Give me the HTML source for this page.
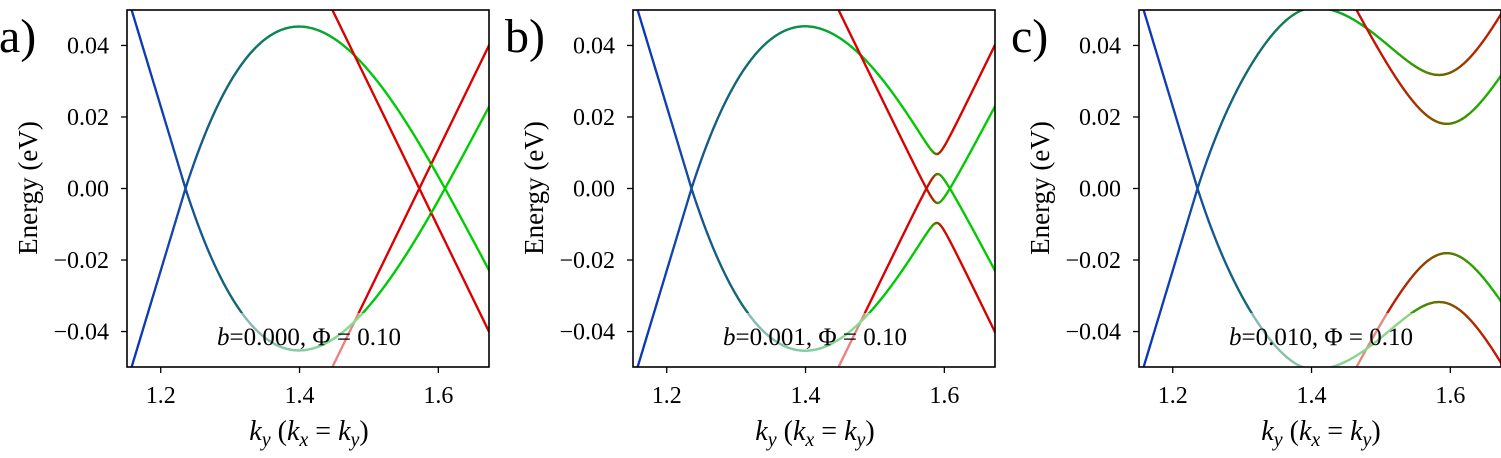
<!DOCTYPE html>
<html><head><meta charset="utf-8"><style>
body{margin:0;background:#fff;}
</style></head><body>
<svg id="s" width="1501" height="453" viewBox="0 0 1501 453" xmlns="http://www.w3.org/2000/svg"></svg>
<script>
const NS="http://www.w3.org/2000/svg";
const svg=document.getElementById('s');
const FF="'Liberation Serif','DejaVu Serif','Noto Serif CJK SC',serif";
function el(t,a,txt){const e=document.createElementNS(NS,t);for(const k in a)e.setAttribute(k,a[k]);if(t==='text')e.setAttribute('style','font-family:'+FF);if(txt!==undefined)e.textContent=txt;return e;}
const k1=1.2357,k2=1.6096,p=1.80,q=-3.835;
function f(k){return k<k1?0.643*(k-k1):(k-k1)*(k-k2)*(p*k+q);}
function r1(k){return 0.3986*(k-1.5726);}
const KMIN=1.1514,KMAX=1.673,W=362,TOP=10,BOT=367,Y0=188.5,SY=3576;
const stops=[[1.15,[10,50,190]],[1.22,[20,70,170]],[1.26,[20,90,140]],[1.32,[16,110,110]],[1.40,[10,150,70]],[1.48,[0,195,20]],[1.55,[0,205,0]]];
function gc(k){if(k<=stops[0][0])return stops[0][1];for(let i=1;i<stops.length;i++){if(k<=stops[i][0]){const t=(k-stops[i-1][0])/(stops[i][0]-stops[i-1][0]);return stops[i-1][1].map((v,j)=>v+(stops[i][1][j]-v)*t);}}return stops[stops.length-1][1];}
function col(k,w){const g=gc(k),r=[220,0,0];const c=g.map((v,j)=>Math.round(v*(1-w)+r[j]*w));return `rgb(${c[0]},${c[1]},${c[2]})`;}
function ss(a,b,x){const t=Math.min(1,Math.max(0,(x-a)/(b-a)));return t*t*(3-2*t);}
const panels=[{L:127,D0:1e-9,lab:"a)",b:"0.000"},{L:633,D0:0.0028,lab:"b)",b:"0.001"},{L:1139,D0:0.025,lab:"c)",b:"0.010"}];
panels.forEach((P,pi)=>{
  const L=P.L;
  const X=k=>L+(k-KMIN)/(KMAX-KMIN)*W, Y=E=>Y0-E*SY;
  const cp=el('clipPath',{id:'c'+pi});cp.appendChild(el('rect',{x:L,y:TOP,width:W,height:BOT-TOP}));svg.appendChild(cp);
  const g=el('g',{'clip-path':`url(#c${pi})`});svg.appendChild(g);
  function band(k,which){const a=f(k),b=r1(k),D=P.D0*ss(1.24,1.40,k)+1e-9;const m=(a+b)/2,d=(a-b)/2,R=Math.sqrt(d*d+D*D);
    if(which==0)return[m+R,0.5*(1-d/R)];if(which==1)return[m-R,0.5*(1+d/R)];if(which==2)return[-(m+R),0.5*(1-d/R)];return[-(m-R),0.5*(1+d/R)];}
  for(let w=0;w<4;w++){
    let prev=null;
    for(let k=KMIN-0.004;k<=KMAX+0.004;k+=0.0012){
      const [E,wr]=band(k,w);
      const pt=[X(k),Y(E)];
      if(prev&&!(Math.abs(E)>0.07)){
        g.appendChild(el('line',{x1:prev[0].toFixed(2),y1:prev[1].toFixed(2),x2:pt[0].toFixed(2),y2:pt[1].toFixed(2),stroke:col(k,Math.min(1,Math.max(0,wr))),'stroke-width':2.3,'stroke-linecap':'round'}));
      }
      prev=pt;
    }
  }
  const cx=L+W/2+1;
  g.appendChild(el('rect',{x:cx-112,y:313,width:224,height:60,fill:'#fff','fill-opacity':0.5}));
  const t=el('text',{x:cx,y:345,'font-size':25,'text-anchor':'middle',fill:'#000'});
  t.appendChild(el('tspan',{'font-style':'italic'},'b'));
  t.appendChild(document.createTextNode('='+P.b+', Φ = 0.10'));
  g.appendChild(t);
  svg.appendChild(el('rect',{x:L,y:TOP,width:W,height:BOT-TOP,fill:'none',stroke:'#000','stroke-width':1.6}));
  [0.04,0.02,0,-0.02,-0.04].forEach(E=>{const y=Y(E);
    svg.appendChild(el('line',{x1:L-6,y1:y,x2:L,y2:y,stroke:'#000','stroke-width':1.3}));
    const s=(E<0?'−':'')+Math.abs(E).toFixed(2);
    svg.appendChild(el('text',{x:L-18,y:y+8,'font-size':24,'text-anchor':'end'},s));});
  [1.2,1.4,1.6].forEach(k=>{const x=X(k);
    svg.appendChild(el('line',{x1:x,y1:BOT,x2:x,y2:BOT+6,stroke:'#000','stroke-width':1.3}));
    svg.appendChild(el('text',{x:x,y:403,'font-size':24,'text-anchor':'middle'},k.toFixed(1)));});
  const xl=el('text',{x:cx,y:440,'font-size':28,'text-anchor':'middle'});
  xl.innerHTML='<tspan font-style="italic">k</tspan><tspan font-style="italic" font-size="20" dy="6">y</tspan><tspan dy="-6">  (</tspan><tspan font-style="italic">k</tspan><tspan font-style="italic" font-size="20" dy="6">x</tspan><tspan dy="-6"> = </tspan><tspan font-style="italic">k</tspan><tspan font-style="italic" font-size="20" dy="6">y</tspan><tspan dy="-6">)</tspan>';
  svg.appendChild(xl);
  svg.appendChild(el('text',{x:L-99,y:197,'font-size':27,'text-anchor':'middle',transform:`rotate(-90 ${L-99} 188)`},'Energy (eV)'));
  svg.appendChild(el('text',{x:L-128,y:52,'font-size':48},P.lab));
});
</script>
</body></html>
